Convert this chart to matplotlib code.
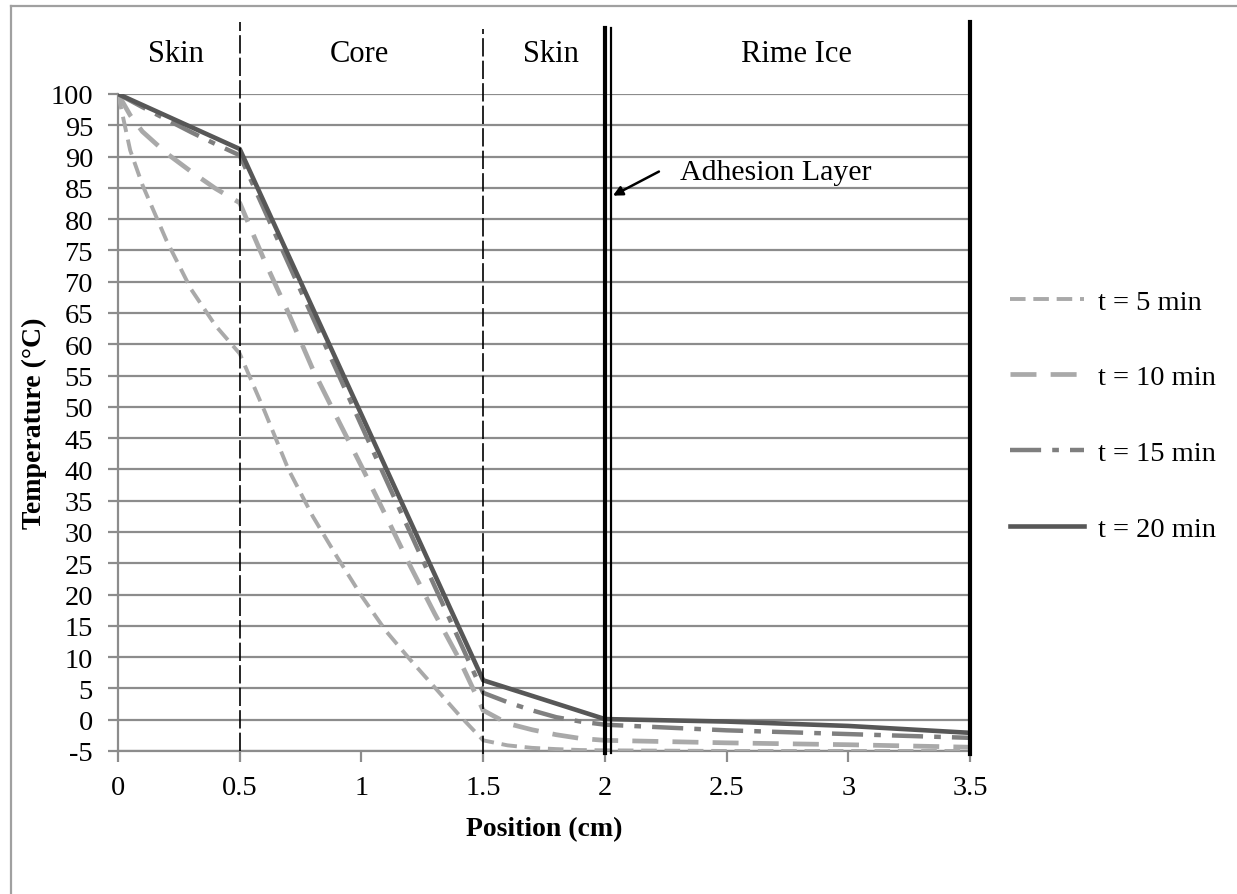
import matplotlib.pyplot as plt
from matplotlib.lines import Line2D

plt.rcParams['font.family'] = ['Liberation Serif', 'DejaVu Serif']

# positions (cm) and temperatures (C)
x_5 = [0, 0.05, 0.1, 0.2, 0.3, 0.4, 0.5, 0.6, 0.7, 0.8, 0.9, 1.0, 1.1, 1.2, 1.3, 1.4, 1.5,
       1.6, 1.7, 1.8, 1.9, 2.0, 2.5, 3.0, 3.5]
t_5 = [100, 91, 85.5, 76.5, 68.8, 63, 58.5, 49.5, 40, 32.5, 26, 19.8, 14.2, 9.6, 5.2, 0.8, -3.3,
       -4.1, -4.5, -4.7, -4.85, -4.9, -5.0, -5.0, -5.0]

x_10 = [0, 0.05, 0.1, 0.2, 0.3, 0.4, 0.5, 0.6, 0.7, 0.8, 0.9, 1.0, 1.1, 1.2, 1.3, 1.4, 1.5,
        1.6, 1.7, 1.8, 1.9, 2.0, 2.5, 3.0, 3.5]
t_10 = [100, 96.6, 94.0, 90.5, 87.6, 84.9, 82.6, 73.5, 65, 56, 48.2, 40.5, 32.6, 24.6, 17, 9.8, 1.5,
        -0.6, -1.6, -2.4, -3.0, -3.3, -3.7, -4.0, -4.4]

x_15 = [0, 0.1, 0.2, 0.3, 0.4, 0.5, 1.0, 1.5, 1.6, 1.7, 1.8, 1.9, 2.0, 2.5, 3.0, 3.5]
t_15 = [100, 97.9, 95.9, 93.9, 92.0, 90.2, 47.0, 4.3, 2.8, 1.5, 0.4, -0.3, -0.8, -1.7, -2.3, -2.9]

x_20 = [0, 0.5, 1.5, 2.0, 2.5, 3.0, 3.5]
t_20 = [100, 91.2, 6.3, 0.1, -0.3, -1.0, -2.1]

series_labels = ['t = 5 min', 't = 10 min', 't = 15 min', 't = 20 min']
layer_names = ['Skin', 'Core', 'Skin', 'Rime Ice']
layer_centers = [0.24, 0.99, 1.78, 2.785]

x_ticks = [0, 0.5, 1, 1.5, 2, 2.5, 3, 3.5]
x_tick_labels = ['0', '0.5', '1', '1.5', '2', '2.5', '3', '3.5']
y_ticks = list(range(-5, 101, 5))

fig = plt.figure(figsize=(12.37, 8.95), dpi=100)
ax = fig.add_axes([0.0954, 0.1598, 0.6888, 0.7341])

ax.set_xlim(0, 3.5)
ax.set_ylim(-5, 100)
ax.set_yticks(y_ticks)
ax.set_yticklabels([str(v) for v in y_ticks])
ax.set_xticks(x_ticks)
ax.set_xticklabels(x_tick_labels)
ax.yaxis.grid(True, color='#8c8c8c', linewidth=1.6)
ax.set_axisbelow(True)
for side in ('top', 'right'):
    ax.spines[side].set_visible(False)
for side in ('left', 'bottom'):
    ax.spines[side].set_color('#8c8c8c')
    ax.spines[side].set_linewidth(1.6)
ax.tick_params(axis='y', length=7, width=1.6, color='#8c8c8c', labelsize=20.5, pad=11)
ax.tick_params(axis='x', length=8, width=1.6, color='#8c8c8c', labelsize=20.5, pad=9)

# layer boundaries
bkw = dict(color='black', clip_on=False, zorder=5)
ax.add_line(Line2D([0.5, 0.5], [-5, 111.5], linewidth=1.2, dashes=(11, 2.5), **bkw))
ax.add_line(Line2D([1.5, 1.5], [-5.5, 110.4], linewidth=1.2, dashes=(11, 2.5), **bkw))
ax.add_line(Line2D([2.0, 2.0], [-5.3, 110.5], linewidth=3.0, **bkw))
ax.add_line(Line2D([2.025, 2.025], [-5.3, 110.5], linewidth=1.6, **bkw))
ax.add_line(Line2D([3.5, 3.5], [-5.5, 111.5], linewidth=3.0, **bkw))

ax.plot(x_5, t_5, color='#a9a9a9', linewidth=2.8, dashes=(4, 2), label=series_labels[0], zorder=3)
ax.plot(x_10, t_10, color='#a9a9a9', linewidth=3.4, dashes=(5.5, 3), label=series_labels[1], zorder=3)
ax.plot(x_15, t_15, color='#7f7f7f', linewidth=3.2, dashes=(7, 2.5, 1.5, 2.5),
        label=series_labels[2], zorder=3)
ax.plot(x_20, t_20, color='#575757', linewidth=3.3, label=series_labels[3], zorder=4)

for name, xc in zip(layer_names, layer_centers):
    ax.text(xc, 106.4, name, ha='center', va='center', fontsize=22, clip_on=False)

ax.text(2.31, 87.5, 'Adhesion Layer', ha='left', va='center', fontsize=21.5)
ax.annotate('', xy=(2.033, 83.75), xytext=(2.222, 87.6),
            arrowprops=dict(arrowstyle='-|>', color='black', linewidth=1.8,
                            mutation_scale=14, shrinkA=0, shrinkB=0))

ax.set_xlabel('Position (cm)', fontsize=20, fontweight='bold')
ax.set_ylabel('Temperature (\u00b0C)', fontsize=20, fontweight='bold')
ax.xaxis.label.set_va('center')
ax.yaxis.label.set_va('center')
ax.yaxis.set_label_coords(-0.0986, 0.5)
ax.xaxis.set_label_coords(0.5, -0.1187)

fig.legend(loc='center left', bbox_to_anchor=(0.8165, 0.535), frameon=False,
           fontsize=20.5, handlelength=2.6, handletextpad=0.5, labelspacing=1.75,
           borderpad=0, borderaxespad=0)

# outer frame of the chart area
fig.add_artist(Line2D([11 / 1237, 11 / 1237], [0, 1 - 7 / 895], color='#a0a0a0',
                      linewidth=1.6, transform=fig.transFigure))
fig.add_artist(Line2D([11 / 1237, 1], [1 - 7 / 895, 1 - 7 / 895], color='#a0a0a0',
                      linewidth=1.6, transform=fig.transFigure))

fig.savefig('out.png', dpi=100)
